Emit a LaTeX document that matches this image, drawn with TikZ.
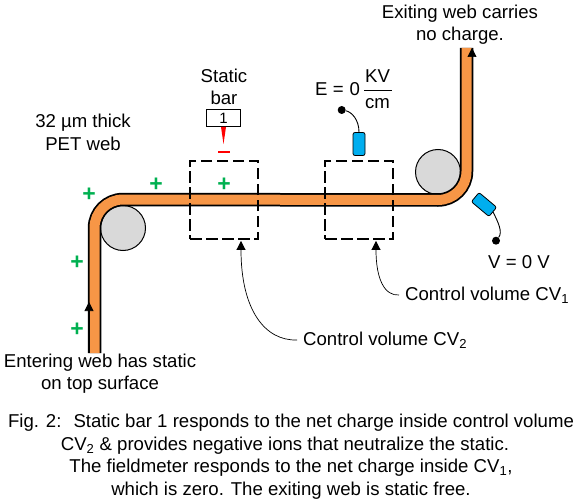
\documentclass[tikz,border=0pt]{standalone}
\usepackage{fontspec}
\setmainfont{Liberation Sans}
\usetikzlibrary{calc,arrows.meta}
\definecolor{weborange}{HTML}{F79646}
\definecolor{rollergray}{HTML}{D9D9D9}
\definecolor{probeblue}{HTML}{00AEEF}
\definecolor{plusgreen}{HTML}{00B050}
\tikzstyle{webtrack}=[
    postaction={draw=black,line width=13.5pt},
    postaction={draw=weborange,line width=10pt}
    ]
\tikzstyle{roller}=[draw,circle,fill=rollergray,line width=1pt,minimum size=45pt,inner sep=0pt]
\tikzstyle{cvbox}=[draw,dashed,dash pattern=on 11.5pt off 4.5pt,line width=1.8pt,minimum width=68pt,minimum height=78pt,inner sep=0pt]
\tikzstyle{probe}=[draw=black,fill=probeblue,rounded corners=2pt,line width=0.8pt,minimum width=12pt,minimum height=23pt,inner sep=0pt]
\tikzstyle{probedot}=[circle,fill=black,minimum size=8pt,inner sep=0pt]
\tikzstyle{plus}=[text=plusgreen,font=\fontsize{23}{23}\selectfont\bfseries,inner sep=0pt]
\tikzstyle{label}=[font=\fontsize{18.6}{22.3}\selectfont,inner sep=0pt,align=center]
\tikzstyle{leader}=[-{Triangle[length=9pt,width=9pt]},line width=0.7pt]
\begin{document}
\begin{tikzpicture}[x=1pt,y=-1pt]
\useasboundingbox (0,0) rectangle (579,503);
%rollers
\node[roller] (rollerin) at (123,228) {};
\node[roller] (rollerout) at (438,172) {};
%web
\path[webtrack] (94.5,353) -- (94.5,228) arc(180:270:28.5) -- (438,200) arc(90:0:28.5) -- (466.5,48);
\coordinate (webinstart) at (89,353);
\coordinate (webinend) at (89,302);
\coordinate (weboutstart) at (472,110);
\coordinate (weboutend) at (472,48);
\draw[leader] (webinstart) -- (webinend);
\draw[leader] (weboutstart) -- (weboutend);
%control volumes
\node[cvbox] (cvtwo) at (224,200) {};
\node[cvbox] (cvone) at (359,200) {};
\coordinate (cvtwotip) at ($(cvtwo.south)+(17,1)$);
\coordinate (cvonetip) at ($(cvone.south)+(17,1)$);
\node[label,anchor=west] (cvtwolabel) at (303,340) {Control volume CV\textsubscript{2}};
\node[label,anchor=west] (cvonelabel) at (405,295) {Control volume CV\textsubscript{1}};
\draw[leader] (cvtwolabel.west) ++(-6,0) .. controls (265,341) and (241,310) .. (cvtwotip);
\draw[leader] (cvonelabel.west) ++(-6,0) .. controls (385,296) and (376,280) .. (cvonetip);
%static bar
\node[label] (stattext) at (224,87) {Static\\bar};
\node[draw,line width=0.8pt,minimum width=34pt,minimum height=17.5pt,inner sep=0pt,font=\fontsize{15}{15}\selectfont] (barbox) at (223.5,118) {1};
\coordinate (sparktop) at (223.5,127);
\fill[red] ($(sparktop)+(-2.5,0)$) -- ($(sparktop)+(2.5,0)$) -- ($(sparktop)+(0,17)$) -- cycle;
\draw[red,line width=2pt] (218,151.5) -- (230,151.5);
%charges
\foreach \i/\xx/\yy in {a/156/185,b/224/185,c/89/195,d/77/263,e/77/330}{
\node[plus] (plus\i) at (\xx,\yy) {+};
}
%fieldmeter
\node[probe] (probetop) at (359,144) {};
\node[probedot] (dottop) at (341.7,110) {};
\draw[line width=0.9pt] (dottop) .. controls (352,112) and (359,120) .. (probetop.north);
\node[probe,rotate=50] (probeside) at (484,204.5) {};
\node[probedot] (dotside) at (496,240.7) {};
\draw[line width=0.9pt] (probeside.south) .. controls (498,222) and (503,232) .. (dotside);
%labels
\node[label] (webtext) at (83,132.5) {32 µm thick\\PET web};
\node[label] (exittext) at (460,25) {Exiting web carries\\no charge.};
\node[label] (entertext) at (100,373.5) {Entering web has static\\on top surface};
\node[label,anchor=west] (fieldtext) at (315,89) {E =\hspace{6pt}0};
\node[label] (kvtext) at (377.5,76) {KV};
\node[label] (cmtext) at (377.5,104) {cm};
\draw[line width=0.7pt] (364,90) -- (392,90);
\node[label] (vtext) at (519,262) {V = 0 V};
%caption
\node[label] (captiona) at (291,423) {Fig. 2: \ Static bar 1 responds to the net charge inside control volume};
\node[label] (captionb) at (285,446) {CV\textsubscript{2} \& provides negative ions that neutralize the static.};
\node[label] (captionc) at (291,468) {The fieldmeter responds to the net charge inside CV\textsubscript{1},};
\node[label] (captiond) at (291,491) {which is zero. The exiting web is static free.};
\end{tikzpicture}
\end{document}
